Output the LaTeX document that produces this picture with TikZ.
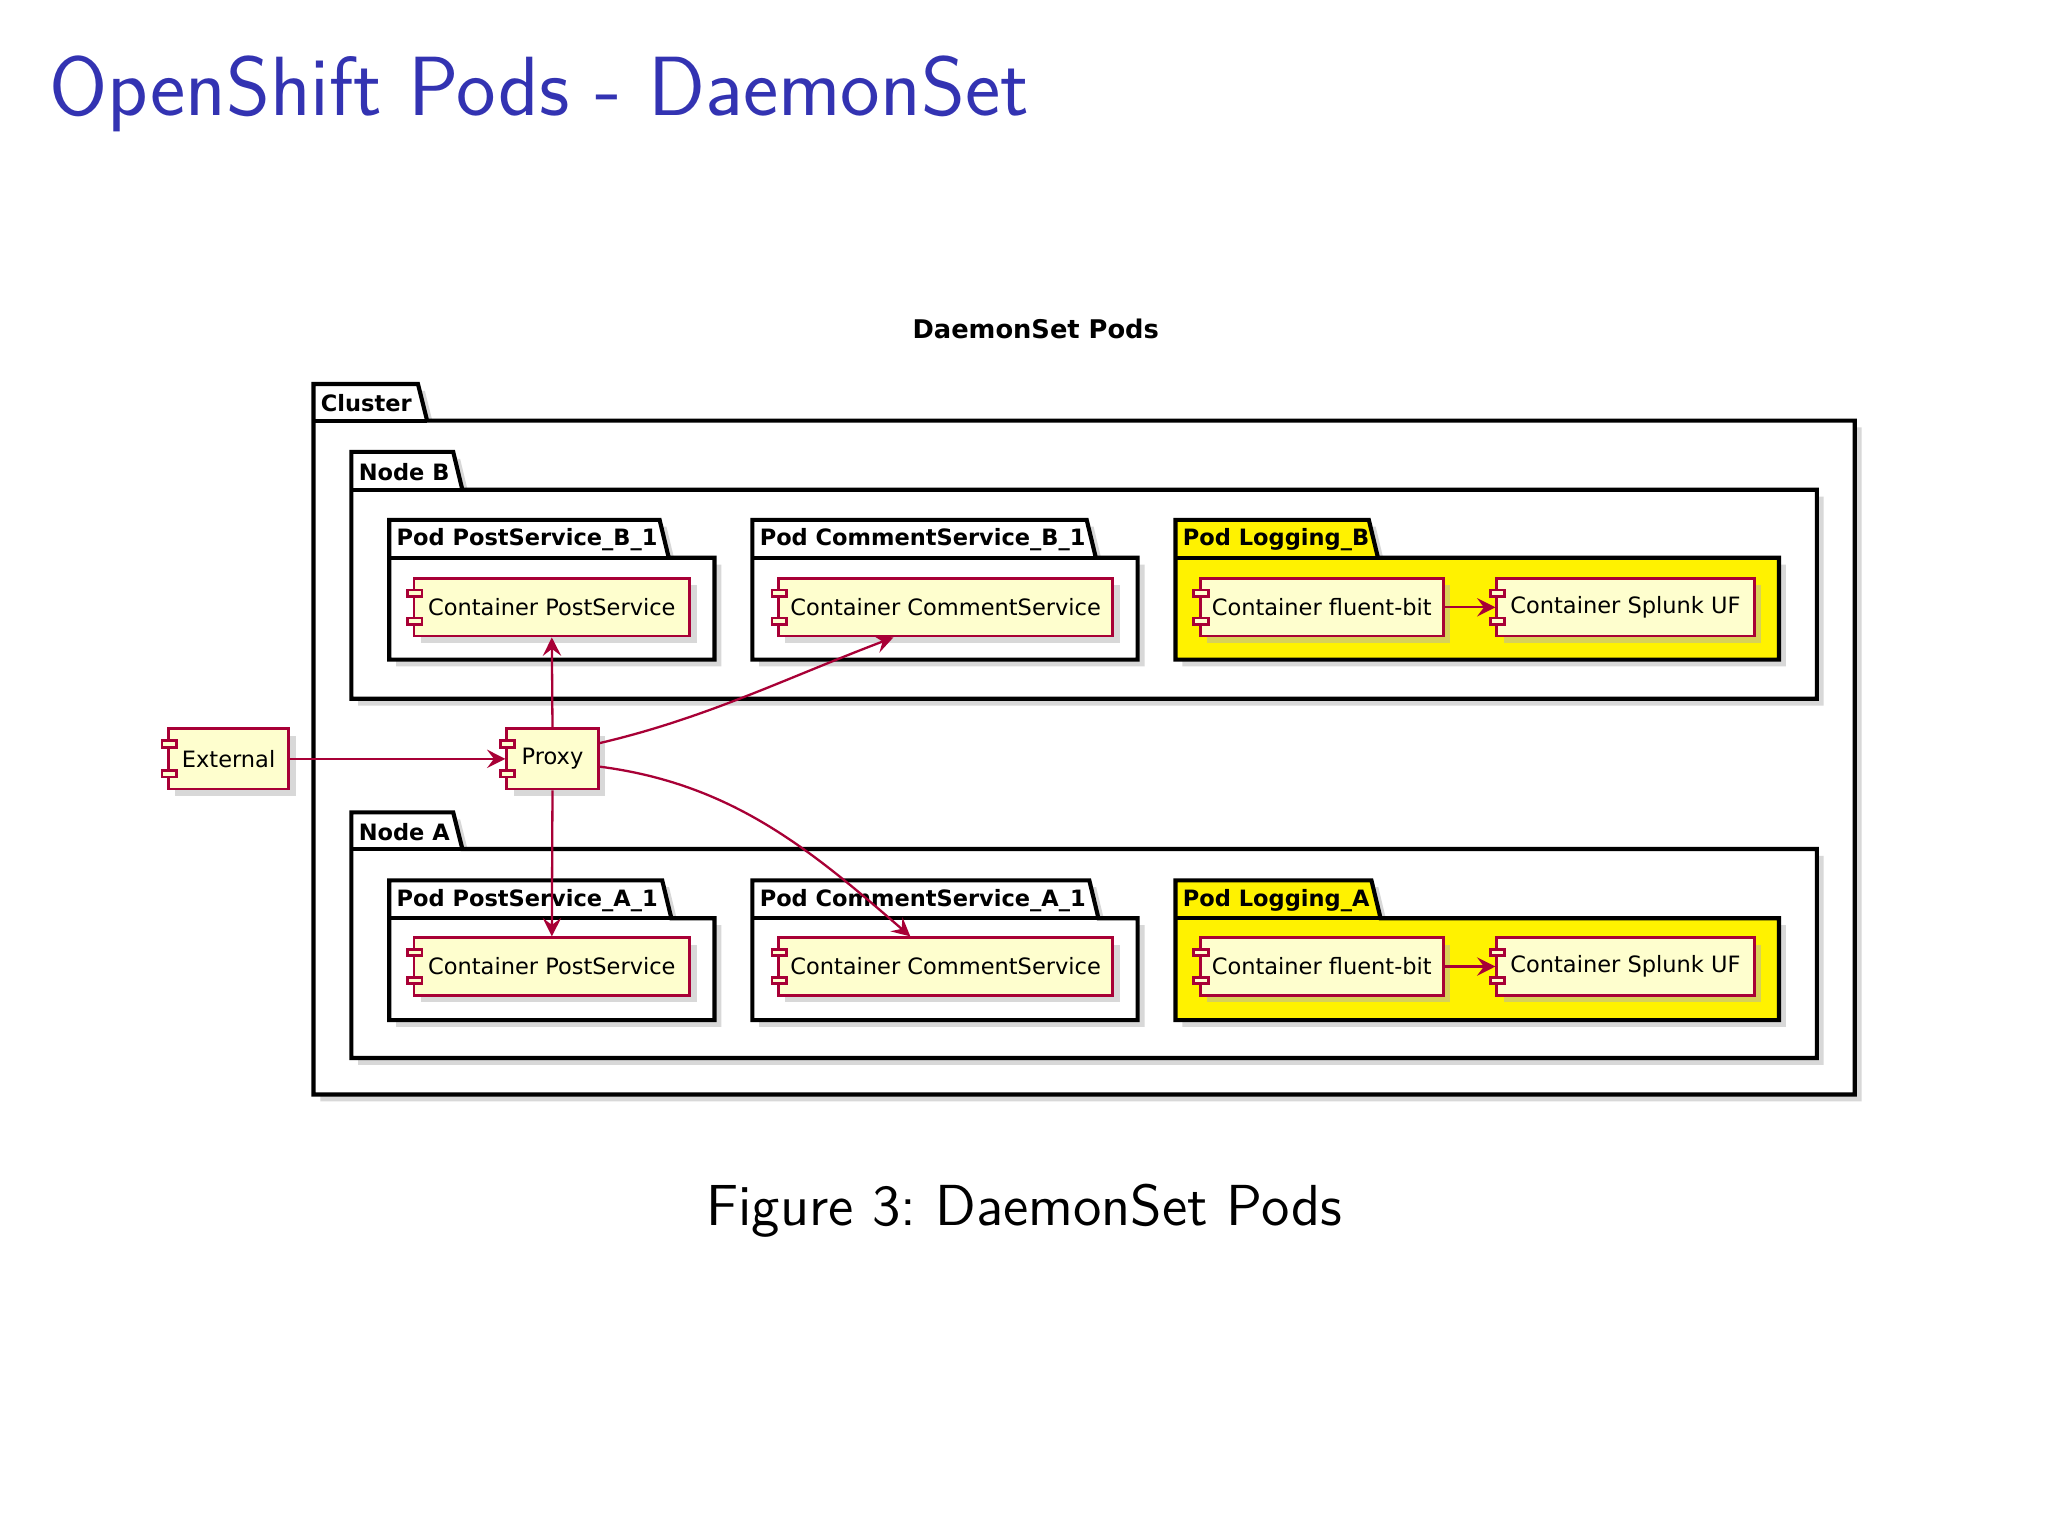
\documentclass[tikz,border=0pt]{standalone}
\usepackage{fontspec}
\newfontfamily\dv{DejaVu Sans}
\usetikzlibrary{arrows.meta,shadows}
\definecolor{umlred}{HTML}{A80036}
\definecolor{umlfill}{HTML}{FEFECE}
\definecolor{titleblue}{RGB}{51,51,178}
\tikzset{
  shad/.style={drop shadow={shadow xshift=1.5pt,shadow yshift=-1.5pt,fill=black!30,opacity=.5}},
  pkgline/.style={draw=black,line width=0.9pt},
  pkglabel/.style={anchor=west,inner sep=0pt,font=\dv\bfseries\fontsize{4.9}{6}\selectfont},
  comp/.style={draw=umlred,fill=umlfill,line width=0.6pt,inner sep=0pt,font=\dv\fontsize{4.9}{6}\selectfont,shad},
  conn/.style={draw=umlred,line width=0.5pt,-{Stealth[length=4pt,width=4pt,inset=1.5pt]}},
}
% package: x1, tab top, tab right, box top, x2, y2, label, fill
\newcommand\pkg[8]{%
  \path[pkgline,fill=#8,shad] (#1,#2) -- (#3,#2) -- (#3+7,#4) -- (#5,#4) -- (#5,#6) -- (#1,#6) -- cycle;
  \draw[pkgline] (#1,#4) -- (#3+7,#4);
  \node[pkglabel] at (#1+5,{(#2+#4)/2+1}) {#7};}
% component: name, x1, y1, x2, y2, text
\newcommand\comp[6]{%
  \node[comp,minimum width={(#4-#2-5)*0.01cm},minimum height={(#5-#3)*0.01cm}] (#1) at ({(#2+#4+5)/2},{(#3+#5)/2}) {#6};
  \draw[umlred,fill=umlfill,line width=0.6pt] (#2,{#3+(#5-#3)*0.2}) rectangle (#2+11,{#3+(#5-#3)*0.2+5});
  \draw[umlred,fill=umlfill,line width=0.6pt] (#2,{#5-(#5-#3)*0.2-5}) rectangle (#2+11,{#5-(#5-#3)*0.2});}
\begin{document}
\begin{tikzpicture}[x=0.01cm,y=-0.01cm]
\fill[white] (0,0) rectangle (1568,1176);
\useasboundingbox (0,0) rectangle (1568,1176);
\node[anchor=west,inner sep=0pt,text=titleblue,font=\sffamily\fontsize{18.3}{22}\selectfont] (title) at (37,72) {OpenShift Pods - DaemonSet};
\node[font=\dv\bfseries\fontsize{5.6}{7}\selectfont] (dtitle) at (793,252) {DaemonSet Pods};
% packages
\pkg{240}{294}{320}{322}{1420}{838}{Cluster}{white}
\pkg{269}{346}{347}{375}{1391}{535}{Node B}{white}
\pkg{298}{398}{505}{427}{547}{505}{Pod PostService\_B\_1}{white}
\pkg{576}{398}{832}{427}{871}{505}{Pod CommentService\_B\_1}{white}
\pkg{900}{398}{1048}{427}{1362}{505}{Pod Logging\_B}{yellow}
\pkg{269}{622}{347}{650}{1391}{810}{Node A}{white}
\pkg{298}{674}{507}{703}{547}{781}{Pod PostService\_A\_1}{white}
\pkg{576}{674}{834}{703}{871}{781}{Pod CommentService\_A\_1}{white}
\pkg{900}{674}{1050}{703}{1362}{781}{Pod Logging\_A}{yellow}
% components
\comp{psb}{312}{443}{528}{487}{Container PostService}
\comp{csb}{591}{443}{852}{487}{Container CommentService}
\comp{fbb}{914}{443}{1105}{487}{Container fluent-bit}
\comp{sub}{1141}{443}{1343}{487}{Container Splunk UF}
\comp{psa}{312}{718}{528}{762}{Container PostService}
\comp{csa}{591}{718}{852}{762}{Container CommentService}
\comp{fba}{914}{718}{1105}{762}{Container fluent-bit}
\comp{sua}{1141}{718}{1343}{762}{Container Splunk UF}
\comp{ext}{124}{558}{221}{604}{External}
\comp{proxy}{383}{558}{458}{604}{Proxy}
% connectors
\draw[conn] (ext.east) -- (proxy.west);
\draw[conn] (proxy.north) -- (psb.south);
\draw[conn] (proxy.south) -- (psa.north);
\draw[conn] ([yshift=-0.12cm]proxy.north east) .. controls (540,550) and (600,520) .. ([xshift=-0.4cm]csb.south);
\draw[conn] ([yshift=-0.3cm]proxy.north east) .. controls (560,600) and (620,650) .. ([xshift=-0.27cm]csa.north);
\draw[conn] (fbb.east) -- (sub.west);
\draw[conn] (fba.east) -- (sua.west);
\node[font=\sffamily\fontsize{12.6}{15}\selectfont,inner sep=0pt] (cap) at (784,927) {Figure 3:\ DaemonSet Pods};
\end{tikzpicture}
\end{document}
